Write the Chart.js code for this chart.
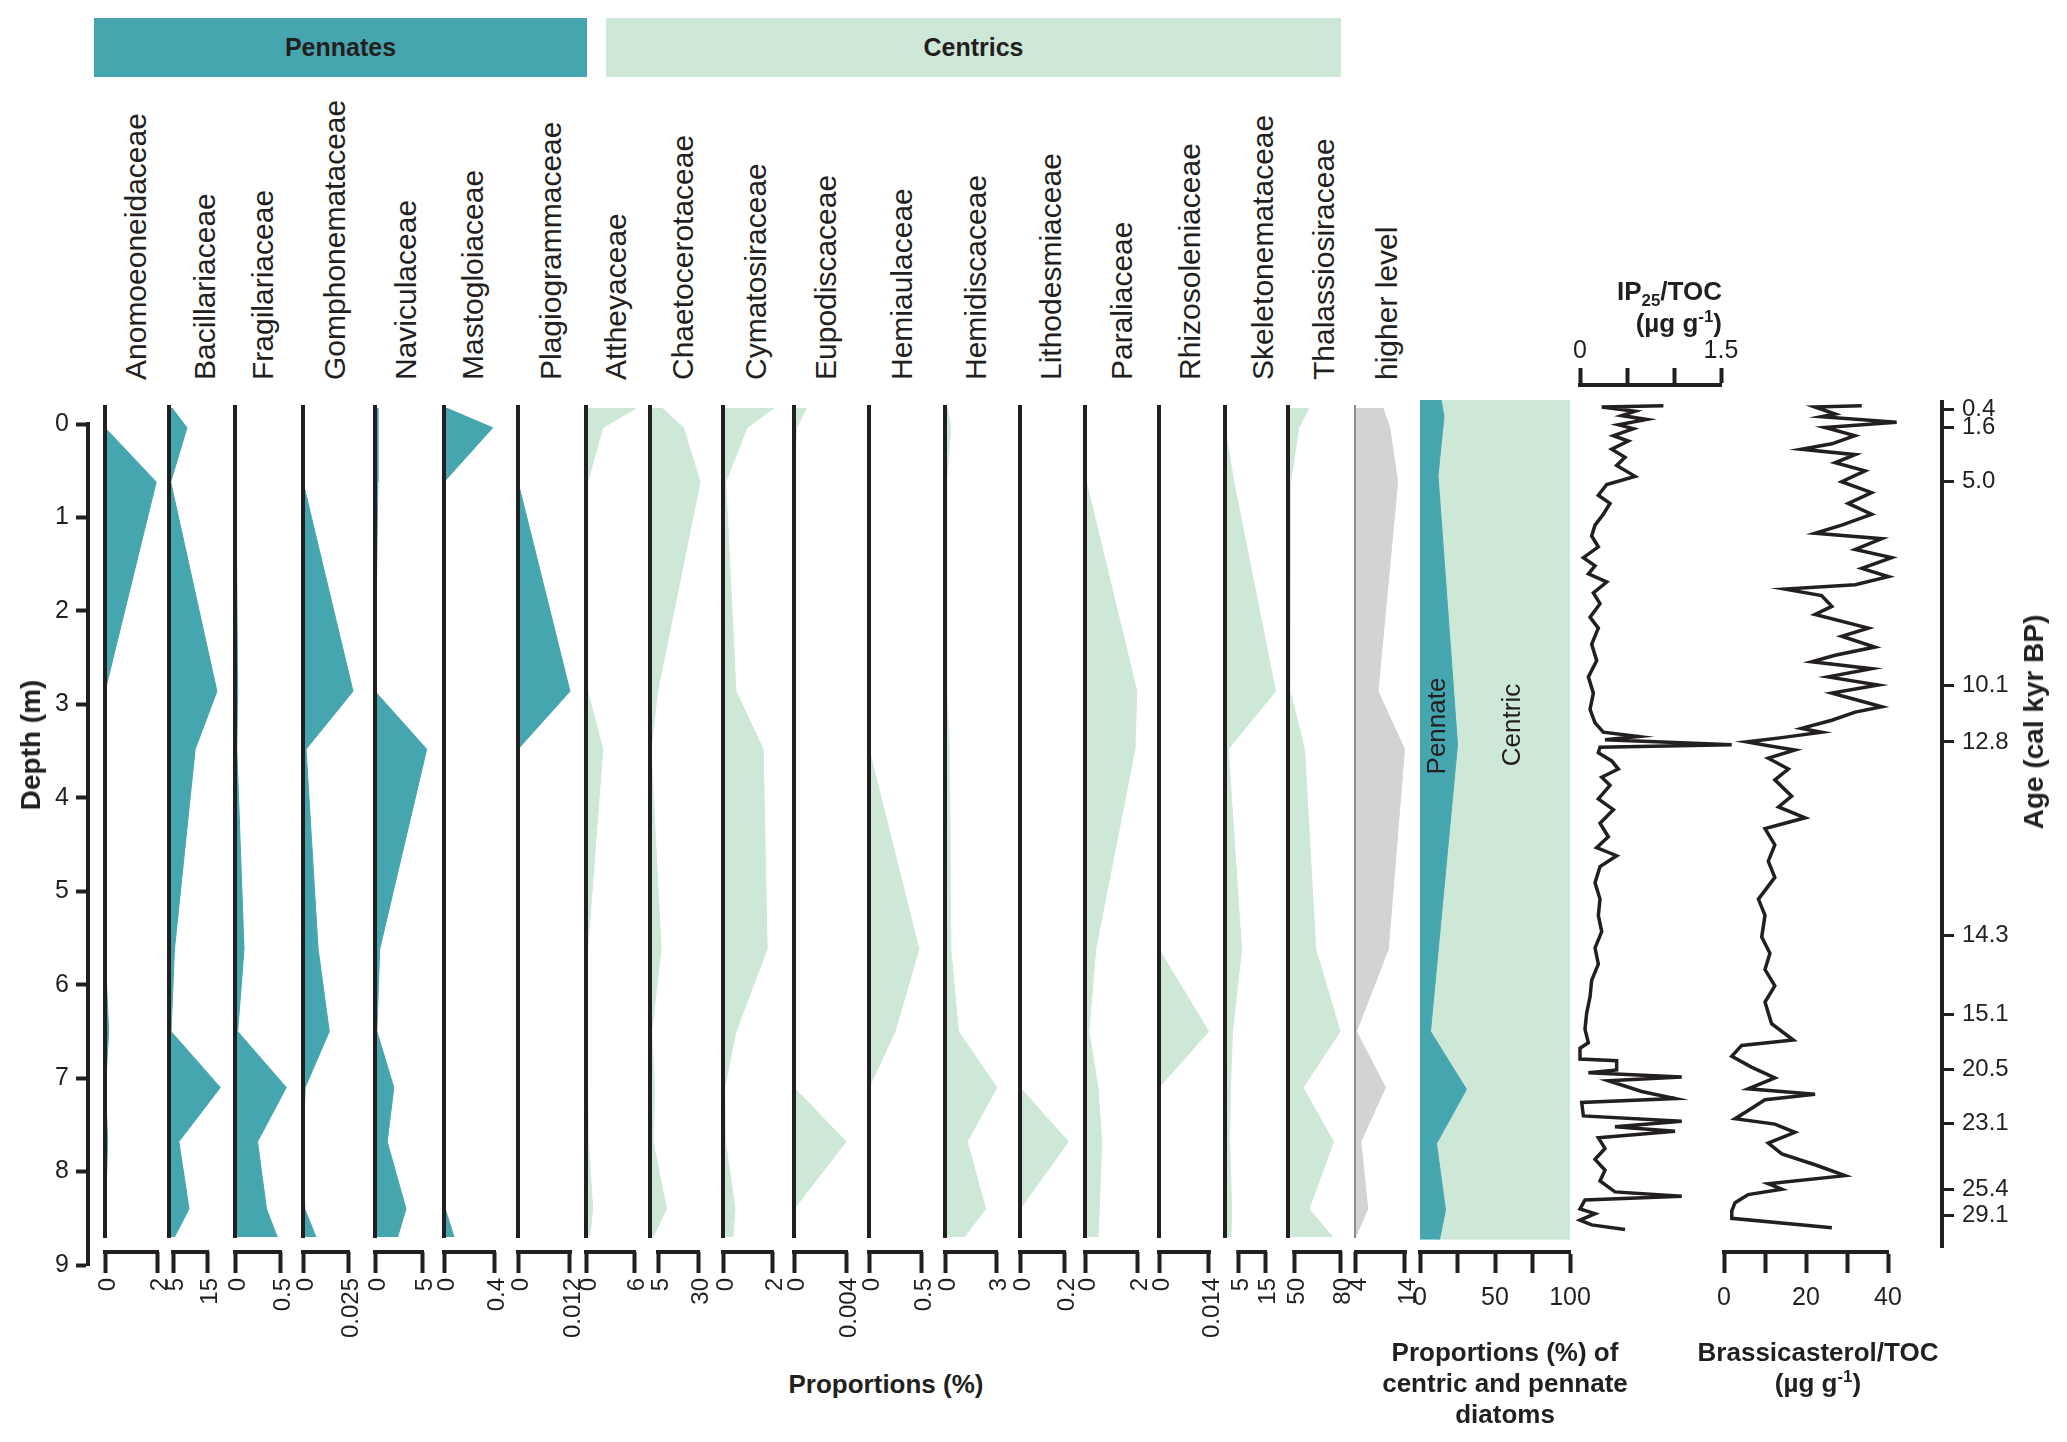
<!DOCTYPE html>
<html>
<head>
<meta charset="utf-8">
<script src="https://cdn.jsdelivr.net/npm/chart.js@4.4.1/dist/chart.umd.min.js"></script>
<style>
  body { margin: 0; width: 2067px; height: 1442px; position: relative; overflow: hidden; background: #fff;
         font-family: 'Liberation Sans', Arial, Helvetica, sans-serif; color: #231f20; }
  canvas { position: absolute; }
  .t { position: absolute; white-space: nowrap; }
  .head { position: absolute; top: 18px; height: 59px; line-height: 59px; text-align: center;
          font-weight: bold; font-size: 25px; }
  sub, sup { font-size: 65%; line-height: 0; }
</style>
</head>
<body>
<div class="head" style="left:94px;width:493px;background:#45a6af;">Pennates</div>
<div class="head" style="left:606px;width:735px;background:#cde8d6;">Centrics</div>
<script>
// Diatom families, sediment core depth profile + biomarker records

// ---- data ----
const families = ['Anomoeoneidaceae', 'Bacillariaceae', 'Fragilariaceae', 'Gomphonemataceae',
    'Naviculaceae', 'Mastogloiaceae', 'Plagiogrammaceae', 'Attheyaceae', 'Chaetocerotaceae',
    'Cymatosiraceae', 'Eupodiscaceae', 'Hemiaulaceae', 'Hemidiscaceae', 'Lithodesmiaceae',
    'Paraliaceae', 'Rhizosoleniaceae', 'Skeletonemataceae', 'Thalassiosiraceae', 'higher level'];

// sample depths (m)
const depths = [-0.17, 0.04, 0.62, 2.86, 3.48, 5.62, 6.50, 7.10, 7.68, 8.40, 8.70];

// proportions (%) per family at each sample depth
const anomoeoneidaceae  = [0, 0, 1.97, 0, 0, 0, 0.14, 0.02, 0.1, 0.02, 0];
const bacillariaceae    = [4.7, 9.1, 4.3, 17.9, 11.5, 5.4, 4.4, 18.9, 6.7, 9.7, 5.4];
const fragilariaceae    = [0.01, 0.01, 0.01, 0.03, 0.02, 0.1, 0.03, 0.57, 0.25, 0.35, 0.47];
const gomphonemataceae  = [0, 0, 0, 0.0278, 0.0017, 0.0084, 0.0146, 0.0012, 0, 0.001, 0.0072];
const naviculaceae      = [0.3, 0.3, 0.3, 0, 5.5, 0.5, 0.2, 2.0, 1.3, 3.3, 2.4];
const mastogloiaceae    = [0.02, 0.39, 0, 0, 0, 0, 0, 0, 0, 0.01, 0.08];
const plagiogrammaceae  = [0, 0, 0, 0.012, 0, 0, 0, 0, 0, 0, 0];
const attheyaceae       = [6.3, 2.1, 0.2, 0.2, 2.1, 0.2, 0, 0.2, 0.3, 0.84, 0.45];
const chaetocerotaceae  = [7.5, 20.9, 31.3, 4.75, 0.6, 6.9, 1.1, 2.8, 1.9, 10.3, 1.9];
const cymatosiraceae    = [2.08, 0.98, 0.11, 0.53, 1.64, 1.8, 0.53, 0.07, 0.1, 0.49, 0.4];
const eupodiscaceae     = [0.00096, 0.0002, 0, 0, 0, 0, 0, 0, 0.004, 0, 0];
const hemiaulaceae      = [0, 0, 0, 0, 0, 0.48, 0.25, 0, 0, 0, 0];
const hemidiscaceae     = [0.16, 0.34, 0.1, 0.1, 0.26, 0.34, 0.79, 3.05, 1.31, 2.39, 1.13];
const lithodesmiaceae   = [0, 0, 0, 0, 0, 0, 0, 0, 0.22, 0, 0];
const paraliaceae       = [0, 0, 0.05, 1.99, 1.92, 0.41, 0.15, 0.5, 0.64, 0.55, 0.5];
const rhizosoleniaceae  = [0, 0, 0, 0, 0, 0, 0.0139, 0, 0, 0, 0];
const skeletonemataceae = [0, 0, 3.3, 18.9, 1.2, 6.2, 2.8, 2.0, 1.7, 2.5, 2.2];
const thalassiosiraceae = [59.7, 53.0, 47.7, 47.3, 56.8, 64.1, 80.0, 55.8, 75.7, 59.7, 75.1];
const higherLevel       = [9.5, 10.9, 12.5, 8.5, 13.9, 10.6, 4.1, 10.0, 5.0, 6.4, 3.9];

// axis tick labels and the value at each panel's baseline
const axisTicks = [[0, 2], [5, 15], [0, 0.5], [0, 0.025], [0, 5], [0, 0.4], [0, 0.012], [0, 6], [5, 30],
    [0, 2], [0, 0.004], [0, 0.5], [0, 3], [0, 0.2], [0, 2], [0, 0.014], [5, 15], [50, 80], [4, 14]];
const axisStart = [0, 3.8, 0, 0, 0, 0, 0, 0, 0, 0, 0, 0, 0, 0, 0, 0, 0, 46, 3.8];

// centric vs pennate proportions (%)
const groupDepths = [-0.26, -0.08, 0.55, 3.43, 6.50, 7.12, 7.70, 8.41, 8.73];
const pennate = [14, 16, 12, 25, 7, 31, 11, 17, 13];
const centric = [86, 84, 88, 75, 93, 69, 89, 83, 87];

// IP25/TOC (ug/g)
const ip25Depth = [
    -0.194, -0.182, -0.136, -0.090, -0.049, 0.009, 0.050, 0.125, 0.183, 0.270,
    0.357, 0.444, 0.560, 0.647, 0.763, 0.850, 0.966, 1.082, 1.198, 1.314,
    1.430, 1.517, 1.604, 1.691, 1.807, 1.923, 2.068, 2.184, 2.358, 2.532,
    2.706, 2.880, 3.054, 3.199, 3.298, 3.344, 3.379, 3.431, 3.460, 3.518,
    3.605, 3.692, 3.779, 3.866, 4.011, 4.127, 4.272, 4.417, 4.533, 4.620,
    4.736, 4.910, 5.084, 5.258, 5.432, 5.606, 5.780, 5.954, 6.128, 6.302,
    6.476, 6.621, 6.680, 6.795, 6.813, 6.912, 6.941, 6.987, 7.027, 7.143,
    7.219, 7.260, 7.404, 7.462, 7.520, 7.567, 7.637, 7.752, 7.869, 7.985,
    8.101, 8.217, 8.263, 8.304, 8.400, 8.450, 8.520, 8.570, 8.620];
const ip25Value = [
    0.887, 0.231, 0.585, 0.443, 0.709, 0.408, 0.568, 0.355, 0.514, 0.337,
    0.479, 0.390, 0.585, 0.284, 0.195, 0.319, 0.248, 0.160, 0.124, 0.195,
    0.036, 0.160, 0.089, 0.284, 0.142, 0.213, 0.107, 0.195, 0.124, 0.178,
    0.089, 0.142, 0.107, 0.160, 0.248, 0.621, 0.266, 1.614, 0.213, 0.195,
    0.337, 0.408, 0.231, 0.319, 0.195, 0.355, 0.213, 0.301, 0.177, 0.390,
    0.213, 0.160, 0.213, 0.195, 0.231, 0.160, 0.195, 0.124, 0.107, 0.071,
    0.053, 0.089, 0.0, 0.0, 0.390, 0.390, 0.089, 1.082, 0.301, 0.656,
    1.011, 0.018, 0.036, 1.082, 0.372, 1.011, 0.195, 0.266, 0.160, 0.266,
    0.213, 0.372, 1.082, 0.053, 0.0, 0.160, 0.0, 0.124, 0.479];

// Brassicasterol/TOC (ug/g)
const brassDepth = [
    -0.194, -0.182, -0.107, -0.078, -0.020, 0.038, 0.125, 0.212, 0.270, 0.328,
    0.415, 0.502, 0.618, 0.734, 0.850, 0.966, 1.082, 1.169, 1.227, 1.343,
    1.430, 1.546, 1.633, 1.720, 1.767, 1.836, 1.952, 2.039, 2.184, 2.271,
    2.387, 2.474, 2.544, 2.619, 2.706, 2.793, 2.880, 2.938, 3.025, 3.083,
    3.170, 3.257, 3.298, 3.356, 3.402, 3.449, 3.489, 3.576, 3.692, 3.808,
    3.982, 4.098, 4.214, 4.330, 4.504, 4.678, 4.852, 5.084, 5.258, 5.490,
    5.664, 5.838, 6.012, 6.186, 6.418, 6.592, 6.650, 6.766, 6.882, 6.998,
    7.114, 7.173, 7.231, 7.347, 7.434, 7.492, 7.579, 7.695, 7.810, 7.927,
    8.043, 8.130, 8.188, 8.246, 8.333, 8.420, 8.500, 8.600];
const brassValue = [
    33.6, 22.2, 27.1, 23.8, 42.1, 24.6, 31.9, 26.3, 18.9, 32.0,
    27.1, 34.4, 28.7, 36.0, 30.3, 36.0, 28.7, 22.2, 38.5, 32.0,
    40.9, 33.6, 40.1, 32.0, 14.9, 23.8, 26.3, 22.2, 35.2, 28.7,
    36.8, 27.1, 21.4, 36.0, 25.4, 37.6, 26.3, 31.1, 38.5, 32.0,
    26.3, 18.9, 23.8, 14.1, 5.5, 11.6, 17.3, 10.8, 15.7, 12.4,
    16.5, 13.3, 19.8, 10.0, 12.4, 10.8, 12.4, 8.4, 10.0, 9.2,
    11.2, 10.0, 12.4, 10.0, 11.6, 16.9, 4.3, 1.9, 6.7, 12.4,
    5.9, 22.2, 10.0, 5.9, 2.7, 12.4, 17.3, 10.8, 14.1, 22.2,
    29.5, 10.8, 14.1, 5.9, 2.7, 1.9, 1.9, 26.3];

// age model tie points
const ageDepth = [-0.20, -0.01, 0.58, 2.80, 3.41, 5.51, 6.37, 6.97, 7.55, 8.27, 8.55];
const ageLabel = ['0.4', '1.6', '5.0', '10.1', '12.8', '14.3', '15.1', '20.5', '23.1', '25.4', '29.1'];

// ---- layout ----
const INK = '#231f20', TEAL = '#45a6af', MINT = '#cde8d6', GREY = '#d1d3d4';
const FONT = "'Liberation Sans', Arial, Helvetica, sans-serif";
Chart.defaults.font.family = FONT;
Chart.defaults.color = INK;

const Y0 = 424, PXM = 93.45;            // depth 0 at y=424, px per metre
const dAt = px => (px - Y0) / PXM;
const PLOT_TOP = 400, PLOT_BOT = 1252, AXIS_H = 110;

const baseX = [105, 169, 235, 303, 375, 444, 518, 586, 650, 723, 794, 869, 945, 1020, 1085, 1159, 1225, 1288, 1355];
const pxPerUnit = [26, 3.4, 90, 1800, 9.4, 125, 4333, 8, 1.6, 24.5, 13000, 104, 17, 220, 26, 3571, 2.67, 1.533, 4.9];
const labelX = [136, 205, 263, 335, 406, 473, 551, 616, 683, 756, 826, 902, 976, 1051, 1122, 1190, 1263, 1324, 1387];
const panelValues = [anomoeoneidaceae, bacillariaceae, fragilariaceae, gomphonemataceae, naviculaceae,
    mastogloiaceae, plagiogrammaceae, attheyaceae, chaetocerotaceae, cymatosiraceae, eupodiscaceae,
    hemiaulaceae, hemidiscaceae, lithodesmiaceae, paraliaceae, rhizosoleniaceae, skeletonemataceae,
    thalassiosiraceae, higherLevel];

function addCanvas(left, top, w, h) {
    const c = document.createElement('canvas');
    c.width = w; c.height = h;
    c.style.left = left + 'px'; c.style.top = top + 'px';
    document.body.appendChild(c);
    return c;
}

function txt(html, css) {
    const d = document.createElement('div');
    d.className = 't';
    d.innerHTML = html;
    Object.assign(d.style, css);
    document.body.appendChild(d);
    return d;
}

// rotated text centred on (cx, cy)
function vtxt(html, cx, cy, css) {
    return txt(html, Object.assign({ left: cx + 'px', top: cy + 'px',
        transform: 'translate(-50%,-50%) rotate(-90deg)' }, css));
}

// horizontal bar of the small axis bracket, between first and last tick
const bracket = {
    id: 'bracket',
    afterDraw(chart) {
        const s = chart.scales.x, t = s.ticks, ctx = chart.ctx;
        const x0 = s.getPixelForValue(t[0].value), x1 = s.getPixelForValue(t[t.length - 1].value);
        ctx.save();
        ctx.strokeStyle = INK;
        ctx.lineWidth = 4;
        ctx.beginPath();
        ctx.moveTo(x0 - 2, s.top);
        ctx.lineTo(x1 + 2, s.top);
        ctx.stroke();
        ctx.restore();
    }
};

const noPad = s => { s.paddingLeft = 0; s.paddingRight = 0; s.paddingTop = 0; s.paddingBottom = 0; };

function panel(i) {
    const bx = baseX[i], k = pxPerUnit[i], b = axisStart[i];
    const col = i < 7 ? TEAL : (i < 18 ? MINT : GREY);
    const c = addCanvas(bx - 35, PLOT_TOP - 10, 110, PLOT_BOT + AXIS_H - (PLOT_TOP - 10));
    new Chart(c, {
        type: 'line',
        data: {
            datasets: [
                {
                    data: [{ x: b, y: dAt(405) }, { x: b, y: 8.71 }],
                    borderColor: i === 18 ? '#8a8c8e' : INK,
                    borderWidth: i === 18 ? 2 : 4,
                    pointRadius: 0, fill: false
                },
                {
                    data: depths.map((d, j) => ({ x: panelValues[i][j], y: d })),
                    borderColor: col, backgroundColor: col, borderWidth: 1,
                    pointRadius: 0, fill: { value: b }
                }
            ]
        },
        options: {
            responsive: false, animation: false, indexAxis: 'y',
            layout: { padding: { left: 15, right: 15, top: 10, bottom: 0 } },
            plugins: { legend: { display: false }, tooltip: { enabled: false } },
            scales: {
                y: { type: 'linear', display: false, reverse: true, min: dAt(PLOT_TOP), max: dAt(PLOT_BOT) },
                x: {
                    type: 'linear', min: b - 20 / k, max: b + 60 / k,
                    afterBuildTicks: s => { s.ticks = axisTicks[i].map(v => ({ value: v })); },
                    afterFit: s => { s.height = AXIS_H; noPad(s); },
                    border: { display: false },
                    grid: { drawOnChartArea: false, drawTicks: true, tickLength: 21, tickWidth: 4, tickColor: INK },
                    ticks: { autoSkip: false, minRotation: 90, maxRotation: 90, padding: 5, labelOffset: 3,
                             font: { size: 24 }, color: INK, callback: v => String(v) }
                }
            }
        },
        plugins: [bracket]
    });
    txt(families[i], { left: (labelX[i] - 15) + 'px', top: '380px', fontSize: '30px', lineHeight: '30px',
        transformOrigin: '0 0', transform: 'rotate(-90deg)' });
}

families.forEach((f, i) => panel(i));

// centric / pennate proportions
new Chart(addCanvas(1385, PLOT_TOP, 220, PLOT_BOT + AXIS_H - PLOT_TOP), {
    type: 'line',
    data: {
        datasets: [
            { data: groupDepths.map((d, j) => ({ x: pennate[j], y: d })), borderColor: TEAL, backgroundColor: TEAL,
              borderWidth: 1, pointRadius: 0, fill: { value: 0 } },
            { data: groupDepths.map((d, j) => ({ x: centric[j], y: d })), borderColor: MINT, backgroundColor: MINT,
              borderWidth: 1, pointRadius: 0, fill: '-1' }
        ]
    },
    options: {
        responsive: false, animation: false, indexAxis: 'y',
        layout: { padding: { left: 35, right: 35, top: 0, bottom: 0 } },
        plugins: { legend: { display: false }, tooltip: { enabled: false } },
        scales: {
            y: { type: 'linear', display: false, reverse: true, min: dAt(PLOT_TOP), max: dAt(PLOT_BOT) },
            x: {
                type: 'linear', min: 0, max: 100, stacked: true,
                afterBuildTicks: s => { s.ticks = [0, 25, 50, 75, 100].map(v => ({ value: v })); },
                afterFit: s => { s.height = AXIS_H; noPad(s); },
                border: { display: true, width: 4, color: INK },
                grid: { drawOnChartArea: false, tickLength: 21, tickWidth: 4, tickColor: INK },
                ticks: { autoSkip: false, minRotation: 0, maxRotation: 0, padding: 10, font: { size: 25 },
                         callback: v => (v % 50 === 0 ? String(v) : '') }
            }
        }
    }
});
vtxt('Pennate', 1436, 726, { fontSize: '26px' });
vtxt('Centric', 1511, 725, { fontSize: '26px' });

// IP25/TOC curve, axis on top
new Chart(addCanvas(1545, 330, 215, 930), {
    type: 'line',
    data: { datasets: [{ data: ip25Depth.map((d, j) => ({ x: ip25Value[j], y: d })), borderColor: INK,
        borderWidth: 3.5, pointRadius: 0, fill: false, clip: false }] },
    options: {
        responsive: false, animation: false, indexAxis: 'y',
        layout: { padding: { left: 35, right: 39, top: 0, bottom: 8 } },
        plugins: { legend: { display: false }, tooltip: { enabled: false } },
        scales: {
            y: { type: 'linear', display: false, reverse: true, min: dAt(385), max: dAt(1252) },
            x: {
                type: 'linear', position: 'top', min: 0, max: 1.5,
                afterBuildTicks: s => { s.ticks = [0, 0.5, 1, 1.5].map(v => ({ value: v })); },
                afterFit: s => { s.height = 55; noPad(s); },
                border: { display: true, width: 4, color: INK },
                grid: { drawOnChartArea: false, tickLength: 17, tickWidth: 4, tickColor: INK },
                ticks: { autoSkip: false, minRotation: 0, maxRotation: 0, padding: 2, font: { size: 25 },
                         callback: v => (v === 0 || v === 1.5 ? String(v) : '') }
            }
        }
    }
});
txt('IP<sub>25</sub>/TOC<br>(µg g<sup>-1</sup>)', { left: '1422px', width: '300px', top: '275px', textAlign: 'right',
    fontWeight: 'bold', fontSize: '26px', lineHeight: '32px' });

// Brassicasterol/TOC curve
new Chart(addCanvas(1690, PLOT_TOP - 10, 230, PLOT_BOT + AXIS_H - (PLOT_TOP - 10)), {
    type: 'line',
    data: { datasets: [{ data: brassDepth.map((d, j) => ({ x: brassValue[j], y: d })), borderColor: INK,
        borderWidth: 3.5, pointRadius: 0, fill: false, clip: false }] },
    options: {
        responsive: false, animation: false, indexAxis: 'y',
        layout: { padding: { left: 34, right: 32, top: 10, bottom: 0 } },
        plugins: { legend: { display: false }, tooltip: { enabled: false } },
        scales: {
            y: { type: 'linear', display: false, reverse: true, min: dAt(PLOT_TOP), max: dAt(PLOT_BOT) },
            x: {
                type: 'linear', min: 0, max: 40,
                afterBuildTicks: s => { s.ticks = [0, 10, 20, 30, 40].map(v => ({ value: v })); },
                afterFit: s => { s.height = AXIS_H; noPad(s); },
                border: { display: true, width: 4, color: INK },
                grid: { drawOnChartArea: false, tickLength: 21, tickWidth: 4, tickColor: INK },
                ticks: { autoSkip: false, minRotation: 0, maxRotation: 0, padding: 10, font: { size: 25 },
                         callback: v => (v % 20 === 0 ? String(v) : '') }
            }
        }
    }
});

// depth axis (left)
new Chart(addCanvas(0, 400, 100, 900), {
    type: 'line',
    data: { datasets: [{ data: [] }] },
    options: {
        responsive: false, animation: false,
        layout: { padding: { left: 0, right: 0, top: 24, bottom: 35 } },
        plugins: { legend: { display: false }, tooltip: { enabled: false } },
        scales: {
            x: { type: 'linear', display: false },
            y: {
                type: 'linear', position: 'left', reverse: true, min: 0, max: 9,
                afterFit: s => { s.width = 88; },
                border: { display: true, width: 4, color: INK },
                grid: { drawOnChartArea: false, tickLength: 12, tickWidth: 4, tickColor: INK },
                ticks: { stepSize: 1, padding: 7, font: { size: 25 } }
            }
        }
    }
});
vtxt('Depth (m)', 31, 745, { fontSize: '28px', fontWeight: 'bold' });

// age axis (right)
new Chart(addCanvas(1880, 380, 187, 890), {
    type: 'line',
    data: { datasets: [{ data: [] }] },
    options: {
        responsive: false, animation: false,
        layout: { padding: { left: 0, right: 0, top: 18, bottom: 14 } },
        plugins: { legend: { display: false }, tooltip: { enabled: false } },
        scales: {
            x: { type: 'linear', display: false },
            y: {
                type: 'linear', position: 'right', reverse: true, min: dAt(398), max: dAt(1256),
                afterBuildTicks: s => { s.ticks = ageDepth.map(v => ({ value: v })); },
                afterFit: s => { s.width = 125; },
                border: { display: true, width: 4, color: INK },
                grid: { drawOnChartArea: false, tickLength: 12, tickWidth: 3, tickColor: INK },
                ticks: { autoSkip: false, padding: 8, font: { size: 24 }, callback: (v, idx) => ageLabel[idx] }
            }
        }
    }
});
vtxt('Age (cal kyr BP)', 2034, 722, { fontSize: '28px', fontWeight: 'bold' });

// bottom titles
txt('Proportions (%)', { left: '686px', width: '400px', top: '1369px', textAlign: 'center',
    fontWeight: 'bold', fontSize: '26px', lineHeight: '31px' });
txt('Proportions (%) of<br>centric and pennate<br>diatoms', { left: '1305px', width: '400px', top: '1337px',
    textAlign: 'center', fontWeight: 'bold', fontSize: '26px', lineHeight: '31px' });
txt('Brassicasterol/TOC<br>(µg g<sup>-1</sup>)', { left: '1618px', width: '400px', top: '1337px',
    textAlign: 'center', fontWeight: 'bold', fontSize: '26px', lineHeight: '31px' });
</script>
</body>
</html>
